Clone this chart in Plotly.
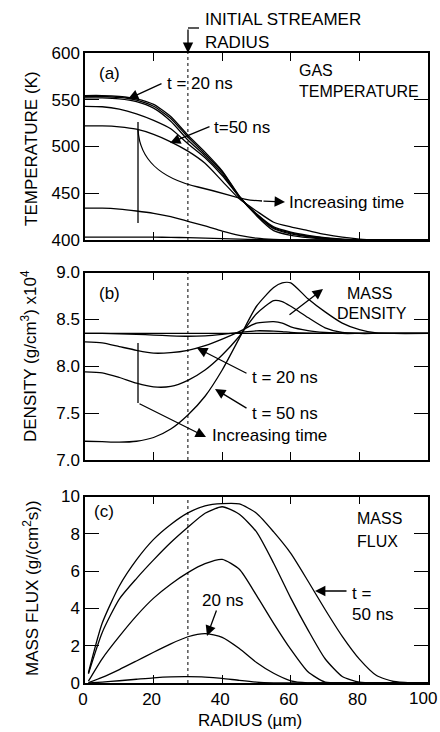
import plotly.graph_objects as go

# ---------------- data ----------------
# Panel (a) gas temperature (K) vs radius (um)
r_t = [0, 5, 10, 15, 20, 25, 30, 35, 40, 45, 50, 55, 60, 65, 70, 75, 80, 85, 90, 100]
temp_flat = [403, 403, 403, 403, 403, 402.8, 402.5, 402, 401.5, 401, 400.5, 400.2, 400, 400, 400, 400, 400, 400, 400, 400]
temp_433 = [434, 434, 433, 431, 428.5, 425, 420, 415, 409.5, 405, 402, 400.6, 400.1, 400, 400, 400, 400, 400, 400, 400]
temp_523 = [522, 522, 521, 518.5, 513, 505, 495, 482, 463, 444, 431, 419, 414, 410, 406, 403, 401, 400.2, 400, 400]
temp_545 = [543, 542.5, 540, 535, 528, 519, 503, 488, 469, 446, 428, 414, 408.5, 405, 402.5, 401, 400.3, 400, 400, 400]
temp_552 = [552, 552, 551, 548, 541, 527, 507, 490, 471, 446, 427.5, 413, 407.5, 404, 402, 400.7, 400.1, 400, 400, 400]
temp_553 = [553.5, 553.5, 552.5, 549.5, 543, 530, 510, 492, 473, 446.5, 427, 412, 406.5, 403.5, 401.5, 400.5, 400, 400, 400, 400]
temp_555 = [554.5, 554.5, 553.5, 551, 545, 532, 512, 494, 474, 447, 426, 410, 405, 402.5, 401, 400.3, 400, 400, 400, 400]

# Panel (b) mass density (g/cm^3 x 1e4)
r_d = [0, 5, 10, 15, 20, 25, 30, 35, 40, 45, 50, 55, 57.5, 60, 65, 70, 75, 80, 85, 90, 100]
dens_flat = [8.35] * len(r_d)
dens_1 = [8.35, 8.35, 8.345, 8.34, 8.333, 8.325, 8.32, 8.325, 8.34, 8.36, 8.378, 8.375, 8.37, 8.36, 8.352, 8.35, 8.35, 8.35, 8.35, 8.35, 8.35]
dens_20 = [8.26, 8.25, 8.21, 8.17, 8.14, 8.145, 8.17, 8.22, 8.29, 8.37, 8.46, 8.475, 8.46, 8.42, 8.38, 8.36, 8.35, 8.35, 8.35, 8.35, 8.35]
dens_3 = [7.94, 7.93, 7.88, 7.82, 7.78, 7.785, 7.85, 7.96, 8.12, 8.32, 8.56, 8.70, 8.69, 8.64, 8.52, 8.41, 8.36, 8.35, 8.35, 8.35, 8.35]
dens_50 = [7.20, 7.195, 7.19, 7.20, 7.24, 7.33, 7.48, 7.68, 7.96, 8.30, 8.64, 8.84, 8.89, 8.89, 8.72, 8.58, 8.46, 8.39, 8.355, 8.35, 8.35]

# Panel (c) mass flux (g/(cm^2 s))
r_f = [1, 5, 10, 15, 20, 25, 30, 35, 40, 45, 50, 55, 60, 65, 70, 75, 80, 85, 90, 95, 100]
flux_50 = [0.55, 3.2, 5.2, 6.6, 7.7, 8.5, 9.12, 9.5, 9.62, 9.6, 9.1, 8.1, 6.95, 5.47, 3.94, 2.5, 1.28, 0.4, 0.08, 0.01, 0]
flux_4 = [0.5, 2.7, 4.5, 5.6, 6.6, 7.53, 8.35, 9.1, 9.45, 9.05, 8.1, 6.42, 4.55, 2.85, 1.3, 0.35, 0.05, 0, 0, 0, 0]
flux_3 = [0.1, 1.3, 2.5, 3.6, 4.55, 5.3, 5.92, 6.4, 6.63, 6.1, 4.7, 3.2, 1.8, 0.6, 0.05, 0, 0, 0, 0, 0, 0]
flux_20 = [0.02, 0.3, 0.72, 1.18, 1.65, 2.1, 2.48, 2.65, 2.45, 1.85, 1.1, 0.52, 0.12, 0.01, 0, 0, 0, 0, 0, 0, 0]
flux_1 = [0, 0.05, 0.12, 0.2, 0.28, 0.33, 0.34, 0.32, 0.25, 0.14, 0.05, 0.01, 0, 0, 0, 0, 0, 0, 0, 0, 0]

streamer_radius = 30
x_ticks = [0, 20, 40, 60, 80, 100]
x_ticktext = ["0", "20", "40", "60", "80", ""]   # "100" drawn as an edge-aligned label
t_ticks = [400, 450, 500, 550, 600]
d_ticks = [7.0, 7.5, 8.0, 8.5, 9.0]
f_ticks = [0, 2, 4, 6, 8, 10]

# ---------------- figure ----------------
FONT = "Liberation Sans, Arial, Helvetica, sans-serif"
W, H = 440, 732
ML, MR, MT, MB = 85, 12, 53, 49
PW, PH = W - ML - MR, H - MT - MB


def px(x, y):
    return (x - ML) / PW, (H - MB - y) / PH


def dom(top, bottom):
    return [(H - MB - bottom) / PH, (H - MB - top) / PH]


fig = go.Figure()
line = dict(color="black", width=1.3, shape="spline", smoothing=0.6)

for ys in [temp_flat, temp_433, temp_523, temp_545, temp_552, temp_553, temp_555]:
    fig.add_trace(go.Scatter(x=r_t, y=ys, mode="lines", line=line, xaxis="x", yaxis="y", showlegend=False))
for ys in [dens_flat, dens_1, dens_20, dens_3, dens_50]:
    fig.add_trace(go.Scatter(x=r_d, y=ys, mode="lines", line=line, xaxis="x2", yaxis="y2", showlegend=False))
for ys in [flux_1, flux_20, flux_3, flux_4, flux_50]:
    fig.add_trace(go.Scatter(x=r_f, y=ys, mode="lines", line=line, xaxis="x3", yaxis="y3", showlegend=False))

axis_common = dict(showline=True, linecolor="black", linewidth=1.5, mirror="ticks",
                   ticks="inside", tickcolor="black", showgrid=False, zeroline=False,
                   automargin=False,
                   tickfont=dict(family=FONT, size=17, color="black"))
xa = dict(axis_common, range=[0, 100], tickvals=x_ticks, ticklen=8, tickwidth=1.3, domain=[0, 1])
ya = dict(axis_common, ticklen=14, tickwidth=1.3)

fig.update_layout(
    width=W, height=H, margin=dict(l=ML, r=MR, t=MT, b=MB, autoexpand=False),
    paper_bgcolor="white", plot_bgcolor="white",
    font=dict(family=FONT, size=17, color="black"),
    xaxis=dict(xa, anchor="y", showticklabels=False),
    yaxis=dict(ya, anchor="x", domain=dom(53, 240), range=[400, 600], tickvals=t_ticks),
    xaxis2=dict(xa, anchor="y2", showticklabels=False),
    yaxis2=dict(ya, anchor="x2", domain=dom(272.5, 460), range=[7, 9], tickvals=d_ticks, tickformat=".1f"),
    xaxis3=dict(xa, anchor="y3", showticklabels=True, ticktext=x_ticktext, ticklabelshift=-2),
    yaxis3=dict(ya, anchor="x3", domain=dom(496.5, 683), range=[0, 10], tickvals=f_ticks),
)

shapes = []
for xr, yr in [("x", "y"), ("x2", "y2"), ("x3", "y3")]:
    shapes.append(dict(type="line", xref=xr, yref=yr + " domain", x0=streamer_radius, x1=streamer_radius,
                       y0=0, y1=1, line=dict(color="black", width=1, dash="dot")))


def seg(x0, y0, x1, y1, w=1.3):
    a = px(x0, y0)
    b = px(x1, y1)
    shapes.append(dict(type="line", xref="paper", yref="paper", x0=a[0], y0=a[1], x1=b[0], y1=b[1],
                       line=dict(color="black", width=w)))


# initial streamer radius bracket
seg(188, 28, 199, 28)
# panel (a) bracket + curved line
seg(138, 122, 138, 223)
pts = [(138, 130), (150, 152), (168, 171), (198, 187), (235, 198), (262, 201)]
pp = [px(*p) for p in pts]
path = "M {:.4f},{:.4f} C {:.4f},{:.4f} {:.4f},{:.4f} {:.4f},{:.4f} S {:.4f},{:.4f} {:.4f},{:.4f}".format(
    pp[0][0], pp[0][1], px(140, 160)[0], px(140, 160)[1], px(160, 178)[0], px(160, 178)[1],
    pp[3][0], pp[3][1], px(240, 200)[0], px(240, 200)[1], pp[5][0], pp[5][1])
shapes.append(dict(type="path", xref="paper", yref="paper", path=path, line=dict(color="black", width=1.3)))
# panel (b) bracket
seg(138, 343, 138, 403)
fig.update_layout(shapes=shapes)

ann = []


def text(x, y, s, size=17, xanchor="left", angle=0):
    a = px(x, y)
    ann.append(dict(x=a[0], y=a[1], xref="paper", yref="paper", text=s, showarrow=False,
                    xanchor=xanchor, yanchor="middle", textangle=angle,
                    font=dict(family=FONT, size=size, color="black")))


def arrow(hx, hy, tx, ty):
    a = px(hx, hy)
    ann.append(dict(x=a[0], y=a[1], xref="paper", yref="paper", text="", showarrow=True,
                    ax=tx - hx, ay=ty - hy, axref="pixel", ayref="pixel",
                    arrowhead=2, arrowsize=1.6, arrowwidth=1.3, arrowcolor="black", standoff=0))


# top label
text(203, 20, "INITIAL STREAMER", 17)
text(203, 42, "RADIUS", 17)
arrow(188, 53, 188, 28)

# panel (a)
text(97, 73, "(a)", 17)
text(297, 70, "GAS", 16)
text(297, 91, "TEMPERATURE", 16)
text(165, 83, "t = 20 ns", 17)
arrow(128, 99, 163, 83)
text(212, 127, "t=50 ns", 17)
arrow(170, 143, 211, 126)
text(287, 202, "Increasing time", 17)
arrow(285, 202, 262, 201)

# panel (b)
text(97, 293, "(b)", 17)
text(345, 293, "MASS", 16)
text(335, 313, "DENSITY", 16)
arrow(323, 289, 288, 316)
text(250, 378, "t = 20 ns", 17)
arrow(197, 348, 248, 374)
text(250, 413, "t = 50 ns", 17)
arrow(215, 389, 248, 409)
text(210, 435, "Increasing time", 17)
arrow(206, 437, 138, 403)

# panel (c)
text(92, 511, "(c)", 17)
text(355, 518, "MASS", 16)
text(355, 541, "FLUX", 16)
text(200, 600, "20 ns", 17)
arrow(207, 636, 217, 609)
text(350, 593, "t =", 17)
text(350, 614, "50 ns", 17)
arrow(315, 591, 348, 591)

# last x tick label, kept inside the page edge
text(439, 698, "100", 17, "right")

# axis titles
text(31, 148, "TEMPERATURE (K)", 17, "center", -90)
text(29, 356, "DENSITY (g/cm<sup>3</sup>) x10<sup>4</sup>", 17, "center", -90)
text(31, 588, "MASS FLUX (g/(cm<sup>2</sup>s))", 17, "center", -90)
text(250, 720, "RADIUS (\u00b5m)", 17, "center")

fig.update_layout(annotations=ann)
fig.write_html("out.html")
